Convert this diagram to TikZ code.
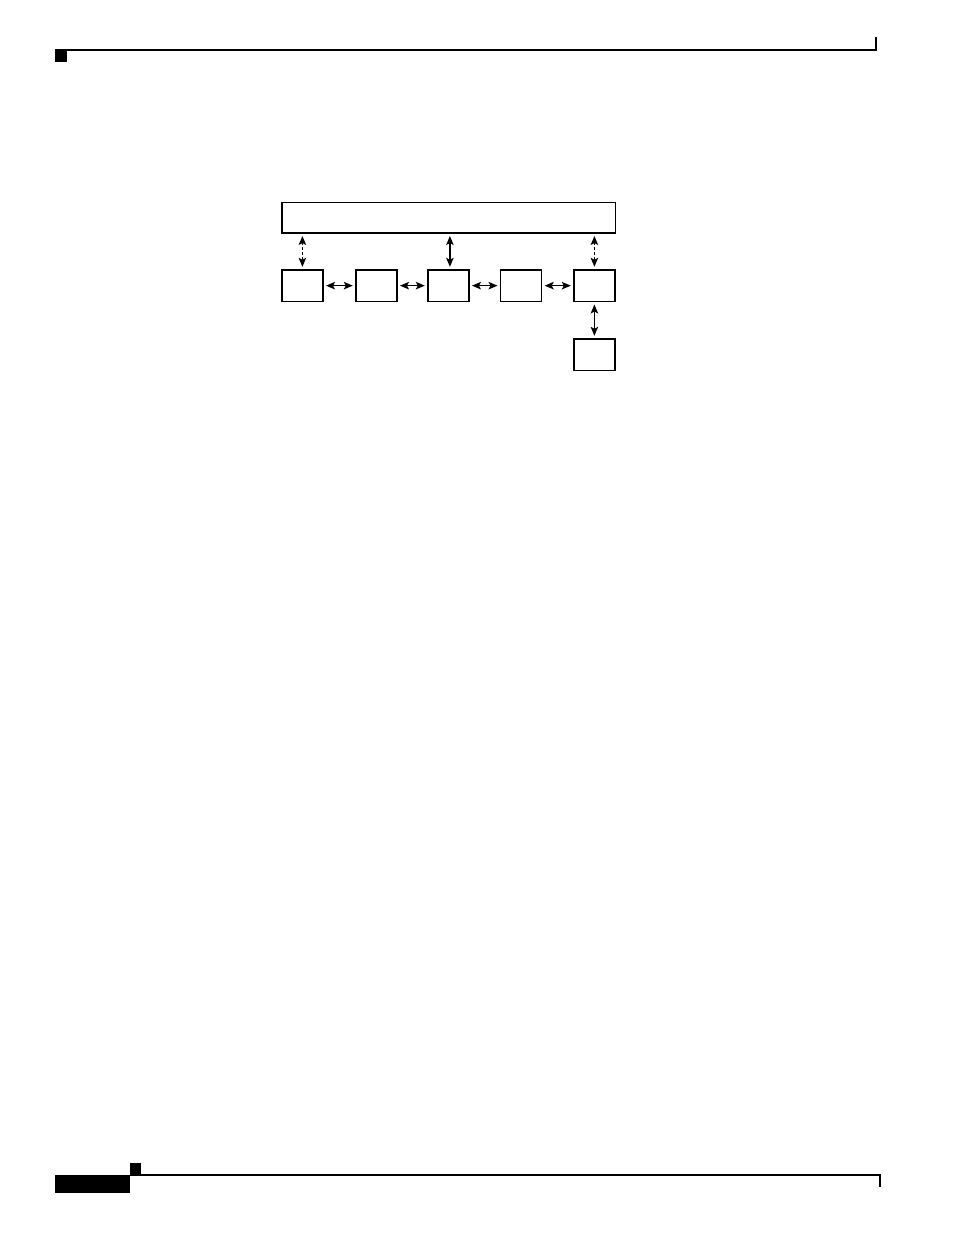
\documentclass[tikz,border=0pt]{standalone}
\usetikzlibrary{arrows.meta}
\begin{document}
\begin{tikzpicture}[x=1pt,y=-1pt,
  box/.style={draw=black, line width=1.2pt, minimum width=41pt, minimum height=31.5pt, inner sep=0pt, anchor=north west},
  link/.style={line width=1.2pt, {Stealth[length=9pt,width=7.5pt,inset=2pt]}-{Stealth[length=9pt,width=7.5pt,inset=2pt]}, shorten <=2.5pt, shorten >=2.5pt},
  dlink/.style={link, dash pattern=on 3pt off 2pt},
  rule/.style={line width=1.2pt},
  blk/.style={fill=black}]
\useasboundingbox (0,0) rectangle (954,1235);
% header
\draw[rule] (55,50) -- (876,50) -- (876,37);
\fill[blk] (55,51) rectangle (67,62);
% footer
\draw[rule] (130,1175) -- (880,1175) -- (880,1187);
\fill[blk] (55,1175) rectangle (130,1193);
\fill[blk] (130,1163) rectangle (141,1175);
% diagram
\node[box, minimum width=333.7pt, minimum height=30.6pt] (top) at (281.3,201.7) {};
\node[box] (b1) at (281.3,269.3) {};
\node[box] (b2) at (355.3,269.3) {};
\node[box] (b3) at (427.3,269.3) {};
\node[box] (b4) at (500,269.3) {};
\node[box] (b5) at (573.3,269.3) {};
\node[box] (b6) at (573.3,338.3) {};
\draw[dlink] (b1.north -| b1.center) -- (top.south -| b1.center);
\draw[link] ([xshift=1.5pt]b3.north) -- ([xshift=1.5pt]b3.north |- top.south);
\draw[dlink] (b5.north -| b5.center) -- (top.south -| b5.center);
\draw[link] (b1.east) -- (b2.west);
\draw[link] (b2.east) -- (b3.west);
\draw[link] (b3.east) -- (b4.west);
\draw[link] (b4.east) -- (b5.west);
\draw[link] (b5.south) -- (b6.north);
\end{tikzpicture}
\end{document}
